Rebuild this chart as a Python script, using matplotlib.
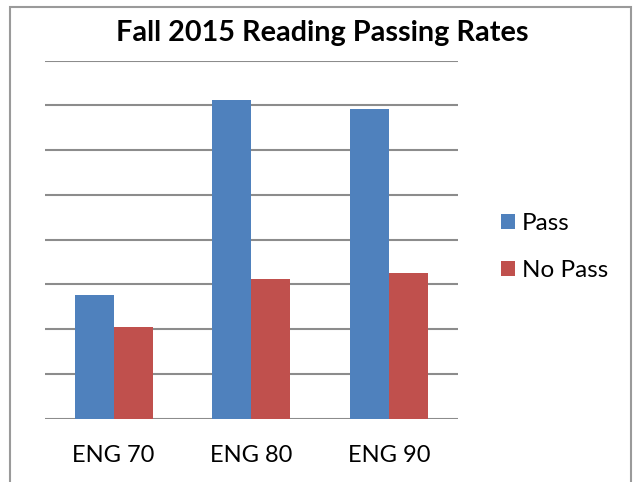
import matplotlib
matplotlib.use("Agg")
import matplotlib.pyplot as plt
from matplotlib.patches import Rectangle
import numpy as np

categories = ["ENG 70", "ENG 80", "ENG 90"]
pass_vals = [138, 356, 346]
nopass_vals = [103, 156, 163]
series_names = ["Pass", "No Pass"]
y_ticks = [0, 50, 100, 150, 200, 250, 300, 350, 400]
title = "Fall 2015 Reading Passing Rates"

W, H = 640, 482
fig = plt.figure(figsize=(W / 100, H / 100), dpi=100)
plt.rcParams['font.family'] = ['Lato', 'DejaVu Sans']

# outer frame
fig.patches.append(Rectangle((10 / W, -0.05), 621 / W, 1.05 - 6.5 / H,
                             transform=fig.transFigure, fill=False,
                             edgecolor='#9a9a9a', linewidth=1.5))

ax = fig.add_axes([44.7 / W, 1 - 418.7 / H, 413.3 / W, 358 / H])
x = np.arange(len(categories))
bw = 0.283
ax.bar(x - bw / 2, pass_vals, bw, color='#4F81BD', label=series_names[0], zorder=3)
ax.bar(x + bw / 2, nopass_vals, bw, color='#C0504D', label=series_names[1], zorder=3)

ax.set_xlim(-0.5, len(categories) - 0.5)
ax.set_ylim(0, y_ticks[-1])
ax.set_yticks(y_ticks)
ax.yaxis.grid(True, color='#8c8c8c', linewidth=1.5)
ax.set_axisbelow(True)
ax.tick_params(axis='y', length=0, labelleft=False)
for s in ax.spines.values():
    s.set_visible(False)
ax.set_xticks(x)
ax.set_xticklabels(categories, fontsize=17, color='black')
ax.tick_params(axis='x', length=0, pad=19)

fig.text(322 / W, 1 - 40.7 / H, title, ha='center', va='baseline',
         fontsize=20.7, fontweight='bold', color='black')

leg = ax.legend(loc='center left', bbox_to_anchor=(501 / W, 1 - 247 / H),
                bbox_transform=fig.transFigure, frameon=False, fontsize=17.5,
                handlelength=0.57, handleheight=0.57, handletextpad=0.3,
                labelspacing=1.05, borderpad=0, borderaxespad=0)

fig.savefig("out.png", dpi=100)
